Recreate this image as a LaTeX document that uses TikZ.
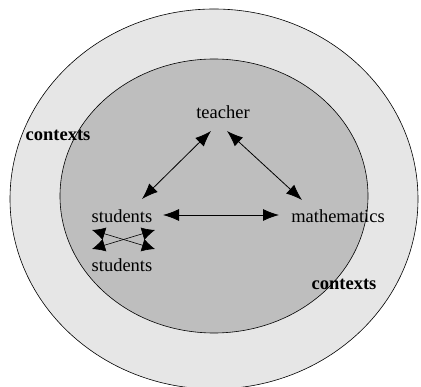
\documentclass[tikz,border=0pt]{standalone}
\usepackage{fontspec}
\setmainfont{Liberation Serif}
\usetikzlibrary{arrows.meta}
\definecolor{outerg}{HTML}{E6E6E6}
\definecolor{innerg}{HTML}{BEBEBE}
\begin{document}
\begin{tikzpicture}[x=1pt,y=-1pt,
  lbl/.style={font=\fontsize{18.5}{20}\selectfont, text=black, inner sep=0pt},
  ctx/.style={font=\bfseries\fontsize{18.5}{20}\selectfont, text=black, inner sep=0pt},
  rel/.style={{Latex[length=16pt,width=12pt]}-{Latex[length=16pt,width=12pt]}, line width=0.8pt},
  small/.style={{Latex[length=13pt,width=13pt]}-{Latex[length=13pt,width=13pt]}, line width=0.6pt}]
\useasboundingbox (0,0) rectangle (421,387);
\fill[white] (0,0) rectangle (421,387);
\draw[fill=outerg, line width=0.6pt] (214,199) ellipse [x radius=204, y radius=190];
\draw[fill=innerg, line width=0.6pt] (214,196) ellipse [x radius=154, y radius=137];
\node[lbl] (teacher) at (223,112) {teacher};
\node[lbl] (stuA) at (122,216) {students};
\node[lbl] (math) at (338,216) {mathematics};
\node[lbl] (stuB) at (122,265) {students};
\node[ctx] (ctxL) at (58,135) {contexts};
\node[ctx] (ctxR) at (344,284) {contexts};
\coordinate (t1) at (211,131);
\coordinate (s1) at (142,199);
\coordinate (t2) at (227,131);
\coordinate (m1) at (302,200);
\coordinate (s2) at (163,215);
\coordinate (m2) at (279,215);
\coordinate (xtl) at (92,230);
\coordinate (xbr) at (155,249);
\coordinate (xtr) at (155,230);
\coordinate (xbl) at (92,249);
\draw[rel] (t1) -- (s1);
\draw[rel] (t2) -- (m1);
\draw[rel] (s2) -- (m2);
\draw[small] (xtl) -- (xbr);
\draw[small] (xtr) -- (xbl);
\end{tikzpicture}
\end{document}
